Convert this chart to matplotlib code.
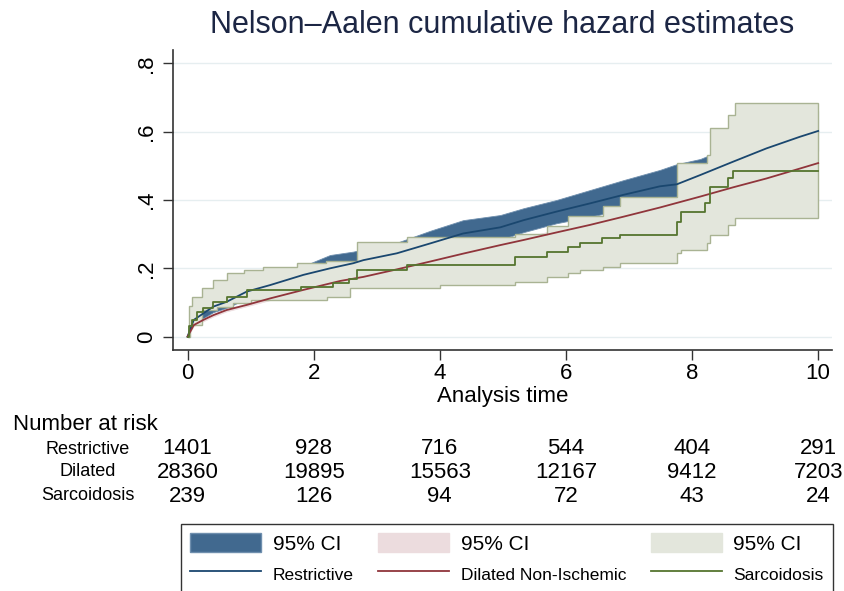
import matplotlib
matplotlib.use('Agg')
import matplotlib.pyplot as plt
import matplotlib.transforms as mtransforms
from matplotlib.patches import Patch
from matplotlib.lines import Line2D
import numpy as np

plt.rcParams['font.family'] = ['Liberation Sans', 'DejaVu Sans']

# Restrictive: Nelson-Aalen estimate and 95% CI
t_res = [0, 0.1, 0.25, 0.41, 0.62, 0.94, 1.31, 1.84, 2.26, 2.63, 2.79, 3.32, 3.85,
         4.37, 4.96, 5.33, 5.85, 6.38, 6.91, 7.49, 7.76, 8.13, 8.65, 9.18, 9.71, 10.0]
h_res = [0, 0.049, 0.068, 0.088, 0.102, 0.132, 0.151, 0.181, 0.2, 0.215, 0.224, 0.244, 0.273,
         0.302, 0.32, 0.341, 0.366, 0.39, 0.415, 0.44, 0.446, 0.473, 0.512, 0.551, 0.585, 0.602]
res_hi = [0, 0.06, 0.082, 0.104, 0.12, 0.152, 0.174, 0.207, 0.239, 0.249, 0.256, 0.275, 0.31,
          0.341, 0.356, 0.376, 0.4, 0.429, 0.458, 0.488, 0.505, 0.52, 0.56, 0.6, 0.64, 0.66]
res_lo = [0, 0.038, 0.054, 0.072, 0.084, 0.112, 0.128, 0.155, 0.161, 0.181, 0.192, 0.213, 0.234,
          0.263, 0.284, 0.306, 0.332, 0.351, 0.372, 0.392, 0.39, 0.426, 0.464, 0.502, 0.53, 0.544]

# Dilated non-ischemic
t_dil = [0, 0.1, 0.25, 0.41, 0.62, 0.94, 1.31, 1.84, 2.42, 2.79, 3.32, 3.85, 4.37, 4.96,
         5.33, 5.85, 6.38, 6.91, 7.49, 8.13, 8.65, 9.18, 9.71, 10.0]
h_dil = [0, 0.034, 0.049, 0.063, 0.078, 0.093, 0.112, 0.137, 0.163, 0.175, 0.197, 0.22, 0.243, 0.268,
         0.283, 0.305, 0.327, 0.351, 0.378, 0.41, 0.437, 0.463, 0.492, 0.508]
dil_hi = [0, 0.037, 0.053, 0.067, 0.082, 0.097, 0.117, 0.142, 0.168, 0.181, 0.203, 0.226, 0.25, 0.275,
          0.29, 0.313, 0.335, 0.36, 0.387, 0.42, 0.448, 0.475, 0.505, 0.522]
dil_lo = [0, 0.031, 0.045, 0.059, 0.074, 0.089, 0.107, 0.132, 0.158, 0.169, 0.191, 0.214, 0.236, 0.261,
          0.276, 0.297, 0.319, 0.342, 0.369, 0.4, 0.426, 0.451, 0.479, 0.494]

# Sarcoidosis (step function)
t_sar = [0, 0.03, 0.07, 0.15, 0.25, 0.41, 0.62, 0.94, 1.8, 2.3, 2.56, 2.68, 3.48, 5.19, 5.7,
         6.03, 6.22, 6.57, 6.86, 7.76, 7.83, 8.2, 8.28, 8.57, 8.65, 10.0]
h_sar = [0, 0.03, 0.05, 0.073, 0.083, 0.102, 0.117, 0.137, 0.146, 0.157, 0.168, 0.195, 0.21, 0.232, 0.249,
         0.262, 0.273, 0.288, 0.298, 0.337, 0.366, 0.39, 0.439, 0.463, 0.486, 0.486]
t_sar_hi = [0, 0.03, 0.07, 0.23, 0.41, 0.62, 0.89, 1.2, 1.73, 2.2, 2.68, 3.48, 5.19, 5.7,
            6.03, 6.59, 6.86, 7.76, 8.23, 8.28, 8.57, 8.68, 10.0]
sar_hi = [0, 0.09, 0.117, 0.142, 0.166, 0.186, 0.195, 0.205, 0.215, 0.222, 0.278, 0.293, 0.3, 0.325,
          0.352, 0.382, 0.41, 0.507, 0.532, 0.61, 0.649, 0.683, 0.683]
t_sar_lo = [0, 0.04, 0.23, 0.47, 0.72, 1.0, 2.21, 2.58, 4.0, 5.19, 5.7, 6.03, 6.22, 6.59, 6.86,
            7.76, 7.83, 8.23, 8.28, 8.57, 8.68, 10.0]
sar_lo = [0, 0.034, 0.078, 0.088, 0.098, 0.107, 0.117, 0.142, 0.151, 0.161, 0.176, 0.186, 0.195, 0.205,
          0.215, 0.244, 0.254, 0.273, 0.298, 0.327, 0.346, 0.346]

# number at risk table
risk_times = [0, 2, 4, 6, 8, 10]
risk_groups = ['Restrictive', 'Dilated', 'Sarcoidosis']
risk_counts = [[1401, 928, 716, 544, 404, 291],
               [28360, 19895, 15563, 12167, 9412, 7203],
               [239, 126, 94, 72, 43, 24]]

yticks = [0, 0.2, 0.4, 0.6, 0.8]
ytick_labels = ['0', '.2', '.4', '.6', '.8']

navy = '#1a476f'
maroon = '#90353b'
green = '#55752f'
res_fill = '#41698f'
dil_fill = '#ecdcde'
sar_fill = '#e3e6dc'
sar_edge = '#a9b393'


def stairs_xy(t, v):
    x = np.repeat(t, 2)[1:]
    y = np.repeat(v, 2)[:-1]
    return x, y


fig = plt.figure(figsize=(8.44, 5.91), dpi=100)
ax = fig.add_axes([173 / 844, 1 - 350 / 591, (832 - 173) / 844, 300 / 591])

# confidence bands (drawn in Stata's order, sarcoidosis on top)
ax.fill_between(t_res, res_lo, res_hi, facecolor=res_fill, edgecolor='#6f8fae', lw=0.6, zorder=2)
ax.fill_between(t_dil, dil_lo, dil_hi, facecolor=dil_fill, edgecolor=dil_fill, lw=0.5, zorder=2)
xu, yu = stairs_xy(t_sar_hi, sar_hi)
xl, yl = stairs_xy(t_sar_lo, sar_lo)
ax.fill(np.r_[xu, xl[::-1]], np.r_[yu, yl[::-1]], facecolor=sar_fill, edgecolor=sar_edge,
        lw=1.0, zorder=3)

# estimates
ax.plot(t_res, h_res, color=navy, lw=1.3, zorder=5)
ax.plot(t_dil, h_dil, color=maroon, lw=1.3, zorder=5)
ax.step(t_sar, h_sar, where='post', color=green, lw=1.3, zorder=5)

ax.set_xlim(-0.23, 10.22)
ax.set_ylim(-0.039, 0.839)
ax.set_xticks(risk_times)
ax.set_xticklabels([str(t) for t in risk_times], fontsize=16)
ax.set_yticks(yticks)
ax.set_yticklabels(ytick_labels, fontsize=16, rotation=90, va='center')
ax.tick_params(axis='both', direction='out', length=7.5, width=1, color='#333333')
ax.tick_params(axis='x', pad=2)
ax.tick_params(axis='y', pad=4)
ax.grid(axis='y', color='#e6eef0', lw=1.0, zorder=0)
ax.set_axisbelow(True)
for side in ['top', 'right']:
    ax.spines[side].set_visible(False)
for side in ['left', 'bottom']:
    ax.spines[side].set_color('#333333')
    ax.spines[side].set_linewidth(1.2)
ax.set_xlabel('Analysis time', fontsize=16, labelpad=1)

fig.text(502 / 844, 1 - 25 / 591, 'Nelson–Aalen cumulative hazard estimates',
         ha='center', va='center', fontsize=22, color='#1c2644')

# number at risk
fig.text(13 / 844, 1 - 424 / 591, 'Number at risk', ha='left', va='center', fontsize=16)
trans = mtransforms.blended_transform_factory(ax.transData, fig.transFigure)
row_y = [449, 472, 496]
for i, grp in enumerate(risk_groups):
    fig.text(88 / 844, 1 - row_y[i] / 591, grp, ha='center', va='center', fontsize=13)
    for t, n in zip(risk_times, risk_counts[i]):
        ax.text(t, 1 - row_y[i] / 591, str(n), transform=trans, ha='center', va='center',
                fontsize=16, clip_on=False)

handles = [Patch(facecolor=res_fill, edgecolor='#6f8fae'),
           Line2D([], [], color=navy, lw=1.3),
           Patch(facecolor=dil_fill, edgecolor=dil_fill),
           Line2D([], [], color=maroon, lw=1.3),
           Patch(facecolor=sar_fill, edgecolor=sar_fill),
           Line2D([], [], color=green, lw=1.3)]
labels = ['95% CI', 'Restrictive', '95% CI', 'Dilated Non-Ischemic', '95% CI', 'Sarcoidosis']
leg = fig.legend(handles, labels, ncol=3, loc='upper left',
                 bbox_to_anchor=(181 / 844, 0, (833 - 181) / 844, 1 - 524 / 591),
                 mode='expand', fancybox=False, edgecolor='#333333', framealpha=1,
                 fontsize=15, handlelength=3.4, handleheight=1.0, handletextpad=0.55,
                 borderpad=0.45, labelspacing=0.45, borderaxespad=0)
leg.get_frame().set_linewidth(1.0)
for txt in leg.get_texts()[1::2]:
    txt.set_fontsize(12.5)

fig.savefig('out.png', dpi=100)
